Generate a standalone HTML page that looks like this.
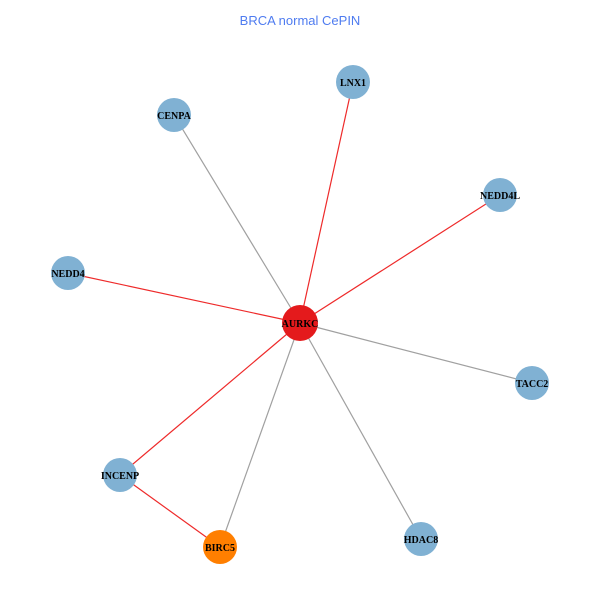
<!DOCTYPE html>
<html><head><style>body{margin:0;background:#fff}</style></head><body>
<svg width="600" height="600" xmlns="http://www.w3.org/2000/svg">
<rect width="600" height="600" fill="#fff"/>
<text x="300" y="25" text-anchor="middle" font-family="Liberation Sans, sans-serif" font-size="13" fill="#4f7cf0">BRCA normal CePIN</text>
<g stroke-width="1.2">
<line x1="300" y1="323" x2="174" y2="115" stroke="#a0a0a0"/>
<line x1="300" y1="323" x2="532" y2="383" stroke="#a0a0a0"/>
<line x1="300" y1="323" x2="421" y2="539" stroke="#a0a0a0"/>
<line x1="300" y1="323" x2="220" y2="547" stroke="#a0a0a0"/>
<line x1="300" y1="323" x2="353" y2="82" stroke="#ee2a2a"/>
<line x1="300" y1="323" x2="500" y2="195" stroke="#ee2a2a"/>
<line x1="300" y1="323" x2="68" y2="273" stroke="#ee2a2a"/>
<line x1="300" y1="323" x2="120" y2="475" stroke="#ee2a2a"/>
<line x1="120" y1="475" x2="220" y2="547" stroke="#ee2a2a"/>
</g>
<g fill="#80b1d3">
<circle cx="353" cy="82" r="17"/><circle cx="174" cy="115" r="17"/>
<circle cx="500" cy="195" r="17"/><circle cx="68" cy="273" r="17"/>
<circle cx="532" cy="383" r="17"/><circle cx="120" cy="475" r="17"/>
<circle cx="421" cy="539" r="17"/>
</g>
<circle cx="220" cy="547" r="17" fill="#ff7f00"/>
<circle cx="300" cy="323" r="18" fill="#e41a1c"/>
<g font-family="Liberation Serif, serif" font-size="10" font-weight="bold" text-anchor="middle" fill="#000">
<text x="300" y="327">AURKC</text>
<text x="353" y="86">LNX1</text>
<text x="174" y="119">CENPA</text>
<text x="500" y="199">NEDD4L</text>
<text x="68" y="277">NEDD4</text>
<text x="532" y="387">TACC2</text>
<text x="120" y="479">INCENP</text>
<text x="220" y="551">BIRC5</text>
<text x="421" y="543">HDAC8</text>
</g>
</svg>
</body></html>
